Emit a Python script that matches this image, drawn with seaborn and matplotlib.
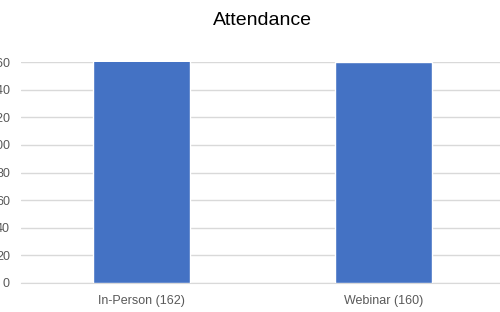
import matplotlib
matplotlib.use("Agg")
import matplotlib.pyplot as plt
import seaborn as sns
import pandas as pd

categories = ["In-Person (162)", "Webinar (160)"]
values = [162, 160]
yticks = [0, 20, 40, 60, 80, 100, 120, 140, 160]

sns.set_style("white")
plt.rcParams['font.family'] = ['Liberation Sans', 'DejaVu Sans']

df = pd.DataFrame({"cat": categories, "val": values})

fig = plt.figure(figsize=(5, 3.12), dpi=100)
ax = fig.add_axes([0.042, 0.093, 0.966, 0.708])
sns.barplot(data=df, x="cat", y="val", color="#4472C4", saturation=1, width=0.4, ax=ax, zorder=3)
ax.set_ylim(0, 160)
ax.set_yticks(yticks)
ax.set_xlim(-0.5, 1.5)
ax.grid(axis="y", color="#d9d9d9", linewidth=1, zorder=0)
for s in ["top", "right", "left"]:
    ax.spines[s].set_visible(False)
ax.spines["bottom"].set_color("#d9d9d9")
ax.tick_params(axis="both", length=0, labelsize=9, labelcolor="#595959")
ax.tick_params(axis="y", pad=8)
ax.tick_params(axis="x", pad=9)
ax.set_xlabel("")
ax.set_ylabel("")
fig.text(0.525, 0.935, "Attendance", ha="center", va="center", fontsize=14, color="black")
fig.savefig("out.png", dpi=100)
